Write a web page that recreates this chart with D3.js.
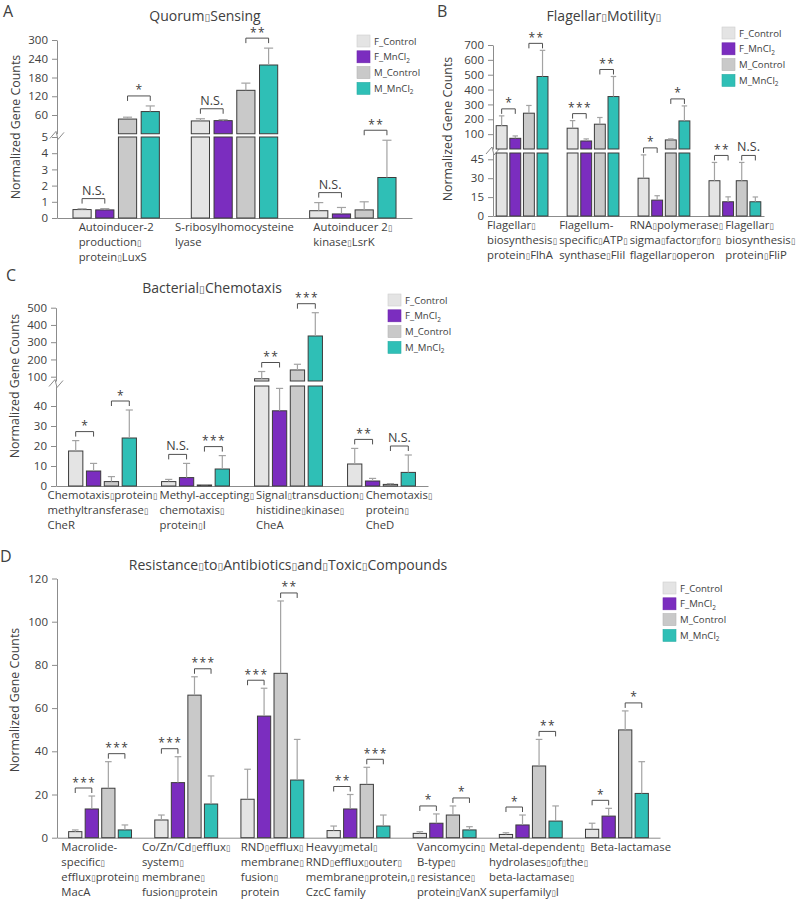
<!DOCTYPE html>
<html>
<head>
<meta charset="utf-8">
<script src="https://cdn.jsdelivr.net/npm/d3@7"></script>
<style>
  body { margin: 0; background: #fff; }
  svg text { font-family: "Open Sans", sans-serif; fill: #404040; }
  .axis path, .axis line { stroke: #8c8c8c; }
  .axis text { font-size: 11.5px; fill: #404040; font-family: "Open Sans", sans-serif; }
</style>
</head>
<body>
<svg id="chart" width="800" height="900"></svg>
<script>
// series shared by all four panels
const seriesNames = ["F_Control", "F_MnCl2", "M_Control", "M_MnCl2"];
const seriesColors = ["#e4e4e4", "#7b2dbf", "#c9c9c9", "#2fbfb6"];

// A  Quorum sensing
const qsCats = [
  ["Autoinducer-2", "production▯", "protein▯LuxS"],
  ["S-ribosylhomocysteine", "lyase"],
  ["Autoinducer 2▯", "kinase▯LsrK"]
];
const qsMean = [[0.52, 0.5, 47, 71], [41, 42, 139, 220], [0.45, 0.25, 0.5, 2.5]];
const qsSD = [[0.05, 0.08, 6, 18], [7, 3, 23, 54], [0.5, 0.4, 0.5, 2.3]];
const qsSig = [["N.S.", "*"], ["N.S.", "**"], ["N.S.", "**"]];

// B  Flagellar motility
const fmCats = [
  ["Flagellar▯", "biosynthesis▯", "protein▯FlhA"],
  ["Flagellum-", "specific▯ATP▯", "synthase▯FliI"],
  ["RNA▯polymerase▯", "sigma▯factor▯for▯", "flagellar▯operon"],
  ["Flagellar▯", "biosynthesis▯", "protein▯FliP"]
];
const fmMean = [[157, 72, 241, 488], [140, 54, 167, 353], [30, 12.6, 61, 189], [28, 11.3, 28, 11.3]];
const fmSD = [[66, 16, 52, 176], [51, 14, 45, 135], [18.5, 3.5, 7, 101], [14.5, 3.9, 14.5, 3.8]];
const fmSig = [["*", "**"], ["***", "**"], ["*", "*"], ["**", "N.S."]];

// C  Bacterial chemotaxis
const chCats = [
  ["Chemotaxis▯protein▯", "methyltransferase▯", "CheR"],
  ["Methyl-accepting▯", "chemotaxis▯", "protein▯I"],
  ["Signal▯transduction▯", "histidine▯kinase▯", "CheA"],
  ["Chemotaxis▯", "protein▯", "CheD"]
];
const chMean = [[17.5, 7.5, 2.2, 24], [2.2, 4.2, 0.5, 8.5], [88, 37.6, 139, 336], [11, 2.5, 0.8, 6.8]];
const chSD = [[5.2, 3.8, 2.5, 14], [1.1, 7.1, 0.2, 6.7], [42, 11.2, 33, 135], [7.8, 1.3, 0.4, 8.7]];
const chSig = [["*", "*"], ["N.S.", "***"], ["**", "***"], ["**", "N.S."]];

// D  Resistance to antibiotics and toxic compounds
const rsCats = [
  ["Macrolide-", "specific▯", "efflux▯protein▯", "MacA"],
  ["Co/Zn/Cd▯efflux▯", "system▯", "membrane▯", "fusion▯protein"],
  ["RND▯efflux▯", "membrane▯", "fusion▯", "protein"],
  ["Heavy▯metal▯", "RND▯efflux▯outer▯", "membrane▯protein,▯", "CzcC family"],
  ["Vancomycin▯", "B-type▯", "resistance▯", "protein▯VanX"],
  ["Metal-dependent▯", "hydrolases▯of▯the▯", "beta-lactamase▯", "superfamily▯I"],
  ["Beta-lactamase"]
];
const rsMean = [[2.8, 13.3, 22.9, 3.6], [8.2, 25.5, 66, 15.6], [17.8, 56.3, 76.1, 26.7], [3.3, 13.3, 24.7, 5.4],
  [2, 6.7, 10.5, 3.6], [1.5, 5.9, 33.2, 7.7], [3.9, 10, 49.9, 20.5]];
const rsSD = [[0.8, 6, 12.3, 2.3], [2.3, 12, 8.5, 13], [13.9, 12.9, 33.5, 18.8], [2.1, 6.7, 7.9, 5.1],
  [0.8, 4.3, 4.2, 1.5], [0.8, 4.6, 12.3, 7], [2.8, 3.6, 8.8, 14.7]];
const rsSig = [["***", "***"], ["***", "***"], ["***", "**"], ["**", "***"], ["*", "*"], ["*", "**"], ["*", "*"]];

const svg = d3.select("#chart");

// text with the little "missing glyph" boxes drawn smaller
function richText(sel, str) {
  str.split(/(▯)/).forEach((part) => {
    if (!part) return;
    const t = sel.append("tspan").text(part);
    if (part === "▯") t.style("font-family", "DejaVu Sans").attr("font-size", "0.75em").style("fill", "#666");
  });
  return sel;
}

function drawPanel(p) {
  const n = p.cats.length;
  const x = d3.scalePoint().domain(d3.range(n)).range([p.x0, p.x1]).padding(p.pad);
  const half = x.step() * 0.365;
  const xs = d3.scaleBand().domain(seriesNames).range([-half, half]).paddingInner(0.2);
  const bw = xs.bandwidth();

  const lowMax = p.brk || p.yMax;
  const yLow = d3.scaleLinear().domain([0, lowMax]).range([p.yBottom, p.lowTop]);
  const yUp = p.brk ? d3.scaleLinear().domain([p.upMin, p.upMax]).range([p.upBottom, p.upTop]) : null;
  const yv = (v) => (!p.brk || v <= p.brk ? yLow(v) : yUp(Math.max(v, p.upMin)));

  // panel letter, title, y title
  svg.append("text").attr("x", p.letter[1]).attr("y", p.letter[2])
    .attr("font-size", 16).text(p.letter[0]);
  richText(svg.append("text").attr("x", p.title[1]).attr("y", p.title[2])
    .attr("text-anchor", "middle").attr("font-size", 14), p.title[0]);
  svg.append("text")
    .attr("transform", `translate(${p.ytitle[0]},${p.ytitle[1]}) rotate(-90)`)
    .attr("text-anchor", "middle").attr("font-size", 12.4)
    .text("Normalized Gene Counts");

  // axes
  svg.append("g").attr("class", "axis")
    .attr("transform", `translate(0,${p.yBottom})`)
    .call(d3.axisBottom(x).tickSize(0).tickFormat(""));
  svg.append("g").attr("class", "axis")
    .attr("transform", `translate(${p.x0},0)`)
    .call(d3.axisLeft(yLow).tickValues(p.lowTicks).tickFormat(d3.format("d"))
      .tickSizeInner(5).tickSizeOuter(0).tickPadding(4));
  if (yUp) {
    svg.append("g").attr("class", "axis")
      .attr("transform", `translate(${p.x0},0)`)
      .call(d3.axisLeft(yUp).tickValues(p.upTicks).tickFormat(d3.format("d"))
        .tickSizeInner(5).tickSizeOuter(0).tickPadding(4));
    const yb = (p.upBottom + p.lowTop) / 2;
    svg.append("path")
      .attr("d", `M${p.x0 - 7},${yb + 3} L${p.x0 - 1},${yb - 4} L${p.x0 + 1},${yb + 4} L${p.x0 + 7},${yb - 3}`)
      .attr("fill", "none").attr("stroke", "#8c8c8c").attr("stroke-width", 1);
  }

  const items = [];
  p.mean.forEach((row, i) => row.forEach((m, j) => items.push({ i, j, m, s: p.sd[i][j] })));
  const bx = (d) => x(d.i) + xs(seriesNames[d.j]);

  // bars (split in two pieces above the axis break)
  svg.append("g").selectAll("rect").data(items).enter().append("rect")
    .attr("x", bx)
    .attr("y", (d) => yLow(Math.min(d.m, lowMax)))
    .attr("width", bw)
    .attr("height", (d) => p.yBottom - yLow(Math.min(d.m, lowMax)))
    .attr("fill", (d) => seriesColors[d.j])
    .attr("stroke", "#3c3c3c").attr("stroke-width", 1);
  if (yUp) {
    svg.append("g").selectAll("rect").data(items.filter((d) => d.m > p.brk)).enter().append("rect")
      .attr("x", bx)
      .attr("y", (d) => yUp(d.m))
      .attr("width", bw)
      .attr("height", (d) => p.upBottom - yUp(d.m))
      .attr("fill", (d) => seriesColors[d.j])
      .attr("stroke", "#3c3c3c").attr("stroke-width", 1);
  }

  // error bars, upper half only
  const eb = svg.append("g").attr("stroke", "#a3a3a3").attr("stroke-width", 1.2);
  eb.selectAll(".v").data(items).enter().append("line")
    .attr("x1", (d) => bx(d) + bw / 2).attr("x2", (d) => bx(d) + bw / 2)
    .attr("y1", (d) => yv(d.m)).attr("y2", (d) => yv(d.m + d.s));
  eb.selectAll(".c").data(items).enter().append("line")
    .attr("x1", (d) => bx(d) + bw * 0.25).attr("x2", (d) => bx(d) + bw * 0.75)
    .attr("y1", (d) => yv(d.m + d.s)).attr("y2", (d) => yv(d.m + d.s));

  // significance brackets
  p.sig.forEach((pair, i) => {
    pair.forEach((lab, k) => {
      const ja = 2 * k, jb = 2 * k + 1;
      const xa = x(i) + xs(seriesNames[ja]) + bw / 2;
      const xb = x(i) + xs(seriesNames[jb]) + bw / 2;
      const top = Math.min(yv(p.mean[i][ja] + p.sd[i][ja]), yv(p.mean[i][jb] + p.sd[i][jb])) - p.bOff;
      svg.append("path")
        .attr("d", `M${xa},${top + 5} V${top} H${xb} V${top + 5}`)
        .attr("fill", "none").attr("stroke", "#505050").attr("stroke-width", 1);
      const star = lab[0] === "*";
      svg.append("text")
        .attr("x", (xa + xb) / 2 + (star ? 0.7 : 0)).attr("y", star ? top - 1.5 : top - 4)
        .attr("text-anchor", "middle")
        .attr("font-size", star ? 12 : 12.5)
        .attr("letter-spacing", star ? 1.4 : 0)
        .text(lab);
    });
  });

  // category labels, blocks of left-aligned lines, kept from overlapping
  let prevRight = -Infinity;
  p.cats.forEach((lines, i) => {
    const g = svg.append("g");
    lines.forEach((ln, li) => {
      richText(g.append("text").attr("x", 0).attr("y", li * 15.2).attr("font-size", 11.3), ln);
    });
    const w = g.node().getBBox().width;
    const left = Math.max(x(i) - w / 2, prevRight + 2);
    prevRight = left + w;
    g.attr("transform", `translate(${left},${p.yBottom + 13})`);
  });

  // legend
  const lg = svg.append("g").attr("transform", `translate(${p.legend[0]},${p.legend[1]})`);
  seriesNames.forEach((s, j) => {
    lg.append("rect").attr("x", 0).attr("y", j * 15.8).attr("width", 13).attr("height", 12)
      .attr("fill", seriesColors[j]).attr("stroke", d3.color(seriesColors[j]).darker(0.3)).attr("stroke-width", 0.6);
    const t = lg.append("text").attr("x", 17).attr("y", j * 15.8 + 9.5).attr("font-size", 9.6);
    if (s.endsWith("2")) {
      t.append("tspan").text(s.slice(0, -1));
      t.append("tspan").attr("font-size", 6.5).attr("dy", 2.5).text("2");
    } else {
      t.text(s);
    }
  });
}

drawPanel({
  letter: ["A", 3, 17], title: ["Quorum▯Sensing", 205, 21], ytitle: [20, 127],
  cats: qsCats, mean: qsMean, sd: qsSD, sig: qsSig,
  x0: 57, x1: 412, pad: 0.5, yBottom: 218,
  brk: 5, lowTop: 137, upMin: 0, upMax: 300, upBottom: 133.75, upTop: 40,
  lowTicks: [0, 1, 2, 3, 4, 5], upTicks: [60, 120, 180, 240, 300],
  legend: [357, 35], bOff: 10
});

drawPanel({
  letter: ["B", 437, 17], title: ["Flagellar▯Motility▯", 604, 21], ytitle: [452, 129],
  cats: fmCats, mean: fmMean, sd: fmSD, sig: fmSig,
  x0: 493, x1: 764, pad: 0.41, yBottom: 216,
  brk: 50, lowTop: 153, upMin: 0, upMax: 700, upBottom: 149, upTop: 45,
  lowTicks: [0, 15, 30, 45], upTicks: [100, 200, 300, 400, 500, 600, 700],
  legend: [722, 27], bOff: 7
});

drawPanel({
  letter: ["C", 6, 281], title: ["Bacterial▯Chemotaxis", 212, 293], ytitle: [19, 386],
  cats: chCats, mean: chMean, sd: chSD, sig: chSig,
  x0: 56, x1: 428, pad: 0.5, yBottom: 486,
  brk: 50, lowTop: 386, upMin: 75, upMax: 500, upBottom: 381, upTop: 307.7,
  lowTicks: [0, 10, 20, 30, 40], upTicks: [100, 200, 300, 400, 500],
  legend: [388, 294], bOff: 9
});

drawPanel({
  letter: ["D", 0, 562], title: ["Resistance▯to▯Antibiotics▯and▯Toxic▯Compounds", 288, 570], ytitle: [19, 700],
  cats: rsCats, mean: rsMean, sd: rsSD, sig: rsSig,
  x0: 57, x1: 660, pad: 0.5, yBottom: 837.7,
  yMax: 120, lowTop: 578.5,
  lowTicks: [0, 20, 40, 60, 80, 100, 120],
  legend: [663, 582], bOff: 8
});
</script>
</body>
</html>
